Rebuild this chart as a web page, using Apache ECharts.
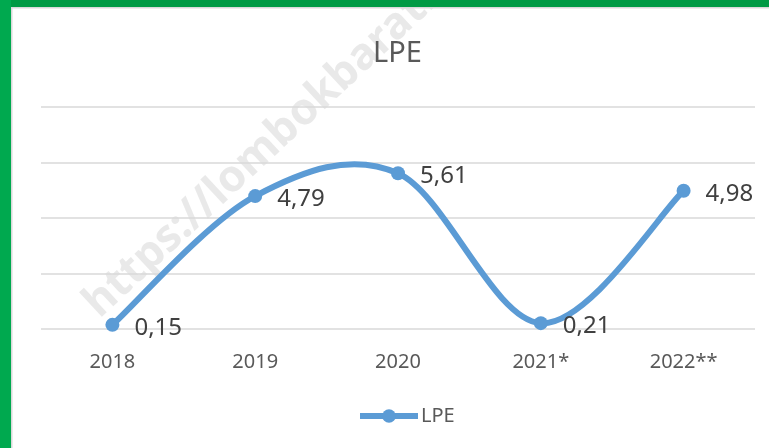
<!DOCTYPE html>
<html>
<head>
<meta charset="utf-8">
<script src="https://cdn.jsdelivr.net/npm/echarts@6/dist/echarts.min.js"></script>
<style>
  html, body { margin: 0; padding: 0; background: #fff; }
  #chart { width: 769px; height: 448px; }
</style>
</head>
<body>
<div id="chart"></div>
<script>
  // data
  var years = ['2018', '2019', '2020', '2021*', '2022**'];
  var lpe = [0.15, 4.79, 5.61, 0.21, 4.98];
  var yTicks = { min: 0, max: 8, step: 2 };

  var font = 'Noto Sans';
  var blue = '#5b9bd5';
  var chart = echarts.init(document.getElementById('chart'));

  // excel-like smoothed segment (catmull-rom, 1/6) between point i and i+1
  function renderCurve(params, api) {
    var i = params.dataIndex;
    var n = lpe.length;
    if (i >= n - 1) return null;
    function pt(k) {
      k = Math.max(0, Math.min(n - 1, k));
      return api.coord([k, lpe[k]]);
    }
    var p0 = pt(i - 1), p1 = pt(i), p2 = pt(i + 1), p3 = pt(i + 2);
    return {
      type: 'bezierCurve',
      shape: {
        x1: p1[0], y1: p1[1],
        cpx1: p1[0] + (p2[0] - p0[0]) / 6, cpy1: p1[1] + (p2[1] - p0[1]) / 6,
        cpx2: p2[0] - (p3[0] - p1[0]) / 6, cpy2: p2[1] - (p3[1] - p1[1]) / 6,
        x2: p2[0], y2: p2[1]
      },
      style: { stroke: blue, lineWidth: 6, fill: null, lineCap: 'round' }
    };
  }

  var option = {
    backgroundColor: '#fff',
    textStyle: { fontFamily: font },
    title: {
      text: 'LPE',
      left: 373,
      top: 39,
      padding: 0,
      textStyle: { color: '#595959', fontSize: 29, fontWeight: 'normal', fontFamily: font }
    },
    legend: {
      top: 401,
      left: 352,
      itemWidth: 58,
      itemHeight: 17,
      itemGap: 4,
      lineStyle: { color: blue, width: 6, opacity: 1 },
      textStyle: { color: '#595959', fontSize: 20, fontFamily: font, padding: [0, 0, 0, -2] },
      data: ['LPE']
    },
    grid: {
      left: 41,
      right: 14,
      top: 107,
      bottom: 119,
      containLabel: false
    },
    xAxis: {
      type: 'category',
      data: years,
      boundaryGap: true,
      axisLine: { show: false },
      axisTick: { show: false },
      axisLabel: { color: '#595959', fontSize: 20, margin: 23, fontFamily: font }
    },
    yAxis: {
      type: 'value',
      min: yTicks.min,
      max: yTicks.max,
      interval: yTicks.step,
      axisLabel: { show: false },
      axisLine: { show: false },
      axisTick: { show: false },
      splitLine: { lineStyle: { color: '#d9d9d9', width: 1.5 } }
    },
    graphic: [
      {
        type: 'text',
        x: 106,
        y: 326,
        rotation: 0.75,
        z: -10,
        silent: true,
        style: {
          text: 'https://lombokbaratkab.go.id',
          fontSize: 44,
          fontWeight: 'bold',
          fontFamily: font,
          fill: 'rgba(200,200,200,0.4)',
          align: 'left',
          verticalAlign: 'bottom'
        }
      },
      { type: 'rect', z: 100, shape: { x: 0, y: 0, width: 769, height: 7 }, style: { fill: '#009a44' } },
      { type: 'rect', z: 100, shape: { x: 0, y: 0, width: 11, height: 448 }, style: { fill: '#00a94f' } },
      { type: 'rect', z: 99, shape: { x: 11, y: 7, width: 758, height: 1.5 }, style: { fill: '#d9d9d9' } },
      { type: 'rect', z: 99, shape: { x: 11, y: 7, width: 1.5, height: 441 }, style: { fill: '#d9d9d9' } }
    ],
    series: [
      {
        name: 'curve',
        type: 'custom',
        renderItem: renderCurve,
        clip: false,
        silent: true,
        z: 2,
        data: lpe.map(function (v, i) { return [i, v]; })
      },
      {
        name: 'LPE',
        type: 'line',
        data: lpe,
        z: 3,
        symbol: 'circle',
        symbolSize: 14,
        lineStyle: { color: blue, width: 6, opacity: 0 },
        itemStyle: { color: blue },
        label: {
          show: true,
          position: 'right',
          distance: 15,
          offset: [0, 3],
          color: '#404040',
          fontSize: 24,
          fontFamily: font,
          formatter: function (p) {
            return String(p.value).replace('.', ',');
          }
        }
      }
    ]
  };

  chart.setOption(option);
</script>
</body>
</html>
